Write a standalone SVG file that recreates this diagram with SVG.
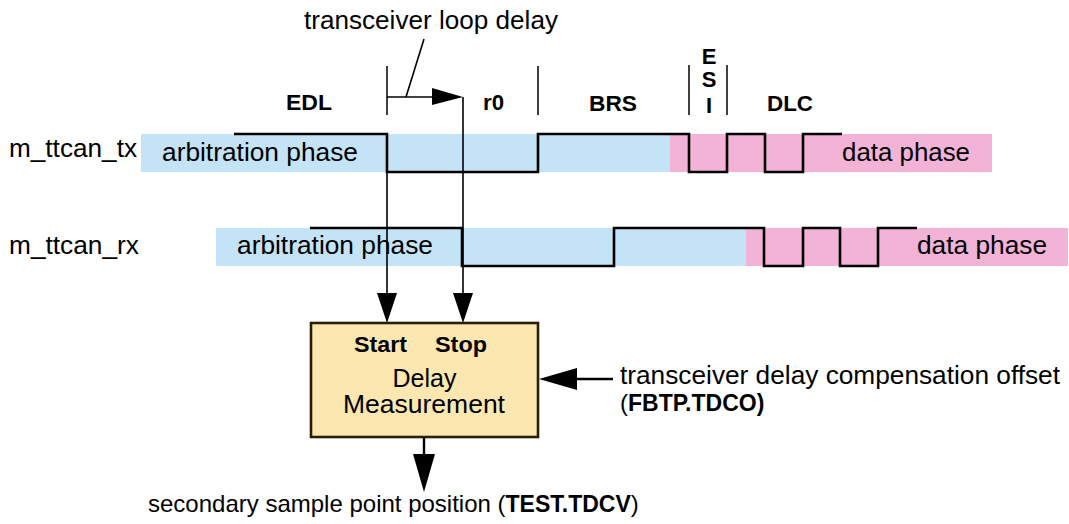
<svg xmlns="http://www.w3.org/2000/svg" width="1069" height="524" viewBox="0 0 1069 524">
<defs>
<style>
.t{font-family:"Liberation Sans",Arial,Helvetica,sans-serif;font-size:25px;fill:#000}
.s{font-size:24px}
.b{font-family:"Liberation Sans",Arial,Helvetica,sans-serif;font-size:22px;font-weight:bold;fill:#000}
.bw{font-weight:bold;font-size:23px}
.sig{fill:none;stroke:#000;stroke-width:2.6;stroke-linejoin:miter}
.tick{stroke:#000;stroke-width:1.5;fill:none}
.conn{stroke:#000;stroke-width:1.6;fill:none}
.conn2{stroke:#000;stroke-width:2.4;fill:none}
.head{fill:#000}
.arb{fill:#c5e3f6}
.dat{fill:#f2b3d6}
</style>
</defs>
<rect width="1069" height="524" fill="#fff"/>

<g id="tx">
<rect class="arb" x="141" y="134" width="529" height="38"/>
<rect class="dat" x="670" y="134" width="322" height="38"/>
<path class="sig" d="M234,134 H387 V172 H538 V134 H689 V172 H727 V134 H765 V172 H803 V134 H842"/>
<text class="t" x="9" y="157" textLength="128" lengthAdjust="spacingAndGlyphs">m_ttcan_tx</text>
<text class="t" x="162" y="161" textLength="196" lengthAdjust="spacingAndGlyphs">arbitration phase</text>
<text class="t" x="842" y="161" textLength="128" lengthAdjust="spacingAndGlyphs">data phase</text>
</g>

<g id="rx">
<rect class="arb" x="216" y="228" width="530" height="38"/>
<rect class="dat" x="746" y="228" width="322" height="38"/>
<path class="sig" d="M310,228 H462 V266 H614 V228 H764 V266 H803 V228 H840 V266 H878 V228 H917"/>
<text class="t" x="9" y="254" textLength="130" lengthAdjust="spacingAndGlyphs">m_ttcan_rx</text>
<text class="t" x="237" y="254" textLength="196" lengthAdjust="spacingAndGlyphs">arbitration phase</text>
<text class="t" x="917" y="254" textLength="130" lengthAdjust="spacingAndGlyphs">data phase</text>
</g>

<g id="fields">
<line class="tick" x1="387" y1="66" x2="387" y2="115"/>
<line class="tick" x1="538" y1="66" x2="538" y2="115"/>
<line class="tick" x1="689" y1="65" x2="689" y2="115"/>
<line class="tick" x1="727" y1="65" x2="727" y2="115"/>
<text class="b" x="286" y="110" textLength="46" lengthAdjust="spacingAndGlyphs">EDL</text>
<text class="b" x="483" y="110" textLength="21" lengthAdjust="spacingAndGlyphs">r0</text>
<text class="b" x="589" y="111" textLength="48" lengthAdjust="spacingAndGlyphs">BRS</text>
<text class="b" x="709" y="64" text-anchor="middle">E</text>
<text class="b" x="709" y="87" text-anchor="middle">S</text>
<text class="b" x="709" y="113" text-anchor="middle">I</text>
<text class="b" x="767" y="111" textLength="46" lengthAdjust="spacingAndGlyphs">DLC</text>
</g>

<g id="loop-delay">
<text class="t" x="304" y="29" textLength="254" lengthAdjust="spacingAndGlyphs">transceiver loop delay</text>
</g>

<g id="delay-measurement">
<rect x="311" y="323" width="227" height="114" fill="#fde7b0" stroke="#2a2000" stroke-width="2.6"/>
<text class="b" x="354" y="352" textLength="53" lengthAdjust="spacingAndGlyphs">Start</text>
<text class="b" x="435" y="352" textLength="52" lengthAdjust="spacingAndGlyphs">Stop</text>
<text class="t" x="424.5" y="387" text-anchor="middle">Delay</text>
<text class="t" x="424" y="413" text-anchor="middle" textLength="162" lengthAdjust="spacingAndGlyphs">Measurement</text>
</g>

<g id="tdco">
<text class="t" x="620" y="383.5" textLength="440" lengthAdjust="spacingAndGlyphs">transceiver delay compensation offset</text>
<text class="t s" x="620" y="411">(<tspan class="bw">FBTP.TDCO)</tspan></text>
</g>

<g id="tdcv">
<text class="t s" x="148" y="512">secondary sample point position (<tspan class="bw">TEST.TDCV</tspan>)</text>
</g>

<g id="connectors">
<line class="conn" x1="406" y1="97" x2="424" y2="39"/>
<line class="conn" x1="387" y1="97" x2="434" y2="97"/>
<polygon class="head" points="432,88 463,97 432,105"/>
<line class="conn" x1="463" y1="97" x2="463" y2="295"/>
<line class="conn" x1="387" y1="172" x2="387" y2="295"/>
<polygon class="head" points="377,293 397,293 387,323"/>
<polygon class="head" points="453,293 473,293 463,323"/>
<line class="conn2" x1="613" y1="379" x2="575" y2="379"/>
<polygon class="head" points="577,368 577,390 539,379"/>
<line class="conn2" x1="424" y1="437" x2="424" y2="456"/>
<polygon class="head" points="413,454 435,454 424,492"/>
</g>
</svg>
